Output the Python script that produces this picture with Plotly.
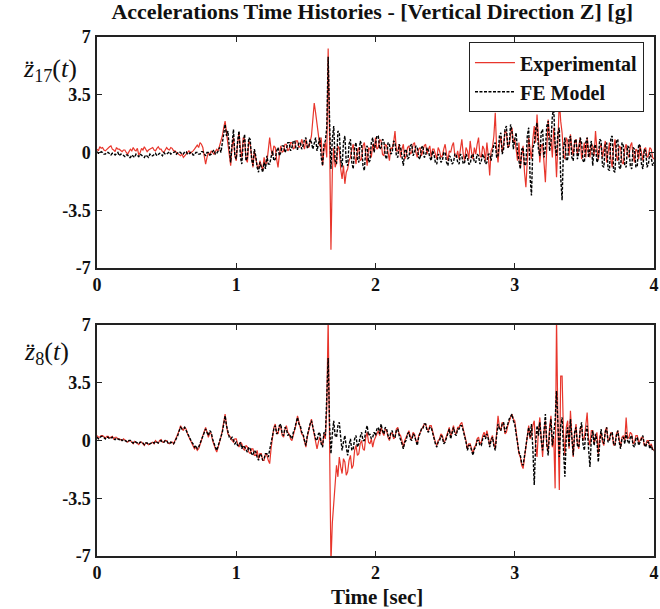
import numpy as np
import plotly.graph_objects as go
from plotly.subplots import make_subplots

# Sample times [sec], 0.01 s step over 4 s
time = np.round(np.arange(401) * 0.01, 2)

# Node 17, vertical acceleration [g]
z17_experimental = [
    0.2, 0.1, 0.35, 0.25, 0.3, 0.15, 0.1, 0.2, 0.25, 0.35, 0.4, 0.2, 0.15, 0.05, 0.3, 0.2, 0.2, 0.1, 0.05, 0.15,
    0.15, 0.0, -0.1, 0.05, 0.2, 0.1, 0.3, 0.15, 0.1, 0.25, -0.15, 0.0, 0.25, 0.15, 0.35, 0.2, 0.05, 0.15, 0.2, 0.3,
    0.3, 0.15, 0.1, 0.25, 0.35, 0.2, 0.2, 0.05, 0.0, 0.15, 0.3, 0.2, 0.15, 0.3, 0.25, 0.1, 0.1, 0.0, -0.05, -0.15,
    -0.2, -0.1, -0.3, -0.2, -0.1, 0.0, 0.1, -0.05, 0.0, 0.1, 0.2, 0.35, 0.45, 0.3, 0.6, 0.5, 0.3, -0.2, -0.7, -0.3,
    0.0, -0.15, 0.1, 0.0, -0.1, 0.05, 0.2, 0.1, 0.4, 0.7, 1.0, 1.5, 1.9, 1.2, 0.6, -0.2, -0.8, 0.4, 0.9, -0.2,
    -0.5, 0.6, 1.2, 0.2, -0.3, 0.9, 0.8, -0.4, -0.6, 0.7, 0.5, -0.2, -0.9, 0.1, -0.4, -0.8, -1.0, -0.5, -0.8, -1.1,
    -0.3, -0.7, -0.6, 0.1, 0.9, 0.2, -0.2, 0.4, 0.3, -0.4, -0.9, -0.1, 0.4, 0.0, 0.1, 0.5, 0.5, 0.1, 0.2, 0.6,
    0.6, 0.2, 0.3, 0.7, 0.7, 0.3, 0.4, 0.8, 0.5, 0.2, 0.8, 0.4, 0.3, 0.6, 1.0, 2.0, 3.0, 2.4, 1.8, 0.9,
    0.4, 0.9, -0.8, 0.2, 0.6, -0.3, 6.3, 1.0, -5.9, -1.2, 0.3, -0.9, -0.6, 0.4, 0.2, -1.0, -1.6, -0.8, -1.9, -1.2,
    -1.0, -0.5, -0.3, 0.2, 0.5, -0.2, -0.7, 0.1, 0.3, -0.5, -0.4, 0.4, 0.6, -0.1, -0.8, 0.3, 0.2, -0.3, 0.5, 0.1,
    0.9, 0.2, 0.3, 0.8, 0.7, -0.1, -0.2, 0.5, 0.4, 0.0, -0.5, 0.3, 0.2, 0.6, 1.3, 0.1, 0.1, 0.5, -0.3, 0.2,
    0.5, -0.4, -0.2, 0.3, 0.4, -0.1, 0.0, 0.5, 0.6, 0.0, -0.3, 0.2, 0.3, -0.2, 0.1, 0.4, 0.5, -0.1, 0.2, 0.4,
    -0.3, 0.2, 0.2, -0.2, -0.4, 0.3, 0.1, -0.3, -0.2, 0.2, 0.5, -0.1, -0.5, 0.1, 0.0, 0.4, 0.6, -0.2, -0.3, 0.1,
    -0.4, 0.2, 0.8, -0.1, -0.5, 0.3, 0.1, -0.4, 0.7, 0.0, -0.4, 0.3, -0.1, 0.5, 0.9, -0.2, -0.3, 0.4, 0.2, -0.5,
    0.6, -0.2, -1.4, 0.1, 0.3, 1.0, 2.4, 0.2, -0.6, 0.5, 1.0, 0.0, 0.5, 1.3, 1.2, 0.3, 0.4, 1.1, 1.5, 0.6,
    0.8, 0.2, -0.5, 0.6, -0.9, -0.2, 0.4, -1.2, -2.1, -0.5, 0.9, 0.2, -0.4, 0.8, 1.6, 0.6, 2.3, 0.9, -0.6, 0.4,
    0.5, -0.6, -1.8, 0.3, 2.0, 0.9, 0.8, -0.3, 1.5, 0.4, -1.5, 0.6, 3.2, 1.9, 1.2, -0.2, -0.4, 0.9, 0.7, -0.2,
    1.1, 0.3, -0.2, 0.6, 0.8, -0.1, 0.3, 0.9, -0.4, 0.2, 0.6, -0.3, 0.9, 0.1, -0.3, 0.5, 0.4, -0.2, 1.3, 0.2,
    -0.4, 0.3, 0.5, -0.3, 0.2, 0.7, -0.6, 0.1, 0.6, -0.4, -0.9, 0.3, 0.8, -0.2, -0.5, 0.4, 0.3, -0.6, -0.7, 0.2,
    0.5, -0.1, -0.3, 0.4, 0.6, -0.2, -0.6, 0.2, 0.1, -0.4, 0.4, 0.0, -0.5, 0.2, 0.3, -0.3, -0.2, 0.3, 0.2, -0.3,
    -0.4,
]
z17_fe_model = [
    0.05, -0.05, -0.05, 0.05, 0.0, -0.1, -0.1, 0.0, 0.0, -0.1, -0.15, -0.05, -0.05, -0.15, -0.1, 0.0, -0.2, -0.1, -0.1, -0.2,
    -0.25, -0.15, -0.15, -0.3, -0.3, -0.15, -0.2, -0.3, -0.1, -0.2, -0.25, -0.1, -0.15, -0.25, -0.3, -0.15, -0.2, -0.3, -0.1, -0.2,
    -0.2, -0.1, -0.05, -0.2, -0.15, -0.05, -0.1, -0.2, 0.0, -0.1, -0.1, 0.0, 0.05, -0.1, -0.05, 0.05, 0.05, -0.1, -0.05, 0.05,
    0.0, -0.1, -0.1, 0.05, 0.05, -0.1, -0.1, 0.0, 0.0, -0.15, -0.15, 0.0, 0.0, -0.1, -0.1, 0.05, 0.05, -0.1, -0.2, 0.0,
    0.0, -0.15, -0.1, 0.05, 0.15, -0.1, -0.05, 0.1, 0.3, 0.0, 0.6, 1.0, 1.7, 1.0, 1.3, 0.3, -0.6, 0.5, 1.4, -0.2,
    -0.4, 0.7, 1.3, -0.3, -0.7, 0.6, 1.1, -0.5, -0.3, 0.9, 0.8, -0.4, -0.8, 0.2, -0.2, -0.9, -1.2, -0.6, -0.9, -1.2,
    -0.6, -1.0, -0.2, -0.7, -0.7, -0.2, 0.1, -0.5, -0.4, 0.1, 0.3, -0.2, 0.0, 0.4, 0.4, 0.0, 0.2, 0.6, 0.6, 0.1,
    0.3, 0.7, 0.7, 0.2, 0.2, 0.6, 0.6, 0.2, 0.4, 0.8, 0.9, 0.3, 0.3, 0.8, 0.6, 0.2, 0.5, 0.9, 0.1, 0.6,
    0.9, -0.3, -0.8, 0.5, 0.7, 1.5, 5.8, 2.0, -1.0, 0.8, 1.6, -0.5, -0.7, 1.3, 1.2, -0.4, -0.9, 0.6, 1.0, -0.6,
    -0.8, 0.5, 0.8, -0.6, -1.0, 0.3, 0.6, -0.4, -0.6, 0.7, 0.5, -0.8, -1.1, 0.2, 0.4, -0.6, -0.5, 0.6, 0.9, 0.0,
    0.5, 1.0, 1.0, 0.2, 0.3, 0.8, 0.7, -0.2, -0.4, 0.6, 0.5, -0.1, 0.0, 0.7, 0.6, -0.2, -0.3, 0.5, 0.3, -0.4,
    -0.8, 0.1, 0.2, -0.4, -0.3, 0.4, 0.5, -0.2, 0.0, 0.4, 0.3, -0.3, -0.4, 0.3, 0.4, -0.3, -0.2, 0.3, 0.1, -0.3,
    -0.5, 0.1, -0.1, -0.6, -0.7, -0.1, -0.2, -0.6, -0.5, 0.0, 0.0, -0.6, -0.8, -0.2, -0.3, -0.7, -0.6, -0.1, -0.1, -0.6,
    -0.7, -0.1, -0.2, -0.7, -0.6, -0.1, -0.3, -0.7, -0.7, -0.2, -0.1, -0.6, -0.6, -0.1, -0.2, -0.7, -0.5, -0.1, -0.3, -0.7,
    -0.6, -0.1, -0.1, -0.5, 0.0, 0.5, 0.6, -0.3, -0.2, 1.0, 1.2, -0.1, 0.2, 1.4, 1.6, 0.3, 0.4, 1.7, 1.3, 0.2,
    0.8, 1.2, 0.0, -0.6, -1.0, 0.2, 0.3, -0.8, -0.7, 1.0, 1.5, -1.5, -2.6, 0.3, 0.5, 1.4, 1.8, 0.2, -0.2, 1.2,
    1.4, -0.3, 0.2, 1.6, 1.9, 0.1, 0.6, 2.2, 2.7, 0.4, -0.2, 1.2, 1.5, -1.5, -2.9, 0.3, 0.9, -0.5, -0.4, 0.8,
    1.0, -0.3, -0.5, 0.7, 0.8, -0.4, 0.0, 0.9, 0.6, -0.5, -0.6, 0.6, 0.9, -0.3, 0.2, 0.7, -0.8, 0.3, 0.5, -0.6,
    -0.4, 0.8, 0.7, -0.8, -0.9, 0.5, 0.6, -1.0, -1.1, 0.9, 1.0, -1.1, -1.2, 0.7, 0.8, -0.9, -1.0, 0.6, 0.4, -0.8,
    -0.9, 0.4, 0.3, -0.8, -1.0, 0.3, 0.2, -0.9, -0.8, 0.5, 0.4, -0.7, -1.0, 0.2, 0.1, -0.9, -0.7, 0.0, -0.3, -0.8,
    -0.6,
]

# Node 8, vertical acceleration [g]
z8_experimental = [
    0.3, 0.2, 0.2, 0.3, 0.3, 0.2, 0.15, 0.25, 0.25, 0.15, 0.2, 0.25, 0.1, 0.2, 0.2, 0.1, 0.1, 0.05, 0.0, 0.1,
    0.05, -0.05, -0.1, 0.0, 0.0, -0.1, -0.2, -0.05, -0.1, -0.2, -0.25, -0.1, -0.1, -0.2, -0.3, -0.15, -0.15, -0.25, -0.2, -0.1,
    -0.1, -0.2, 0.0, -0.1, -0.15, 0.0, 0.05, -0.1, -0.1, 0.0, 0.0, -0.15, -0.2, -0.1, -0.1, -0.2, 0.0, 0.1, 0.3, 0.6,
    0.9, 0.7, 0.6, 0.8, 0.7, 0.4, 0.2, 0.0, -0.2, -0.3, -0.5, -0.4, -0.6, -0.5, -0.3, 0.0, 0.3, 0.6, 0.8, 0.5,
    0.2, 0.5, 0.4, 0.0, -0.3, -0.5, -0.7, -0.4, -0.2, 0.2, 0.6, 1.1, 1.6, 0.9, 0.4, 0.3, 0.2, 0.0, -0.1, 0.1,
    0.1, -0.2, -0.4, -0.1, -0.2, -0.5, -0.6, -0.3, -0.4, -0.7, -0.8, -0.5, -0.5, -0.9, -0.9, -0.6, -1.1, -0.8, -0.8, -1.2,
    -1.2, -0.8, -0.9, -1.2, -1.4, -0.5, 0.3, 0.8, 1.0, 0.5, 0.4, 0.9, 0.8, 0.3, 0.2, 0.7, 0.9, 0.5, 0.4, 0.1,
    0.0, 0.3, 0.6, 1.0, 1.5, 1.1, 0.8, 0.4, 0.3, -0.1, -0.4, 0.2, 0.6, 1.0, 1.3, 0.8, 0.4, 0.0, -0.5, -0.1,
    0.2, -0.1, -0.3, 0.4, 0.1, 2.0, 7.4, 0.0, -7.4, -5.0, -3.8, -2.5, -1.5, -2.2, -1.0, -1.6, -2.0, -1.1, -1.3, -2.1,
    -1.9, -1.2, -0.9, -1.7, -1.5, -0.6, -0.3, -0.9, -0.8, -0.2, 0.0, -0.5, -0.6, 0.2, 0.5, -0.1, -0.2, 0.1, -0.4, 0.0,
    0.2, 0.5, 0.6, 0.3, 0.8, 0.5, 0.3, 0.7, 0.6, 0.2, 0.0, 0.4, 0.5, 0.1, 0.2, 0.7, 0.8, 0.4, 0.3, 0.0,
    -0.4, 0.0, 0.2, 0.5, 0.6, 0.2, 0.1, 0.5, 0.4, 0.0, -0.2, 0.3, 0.5, 0.7, 0.8, 1.0, 1.0, 0.7, 0.6, 0.9,
    0.9, 0.5, 0.2, -0.1, -0.3, 0.0, 0.1, 0.4, 0.3, -0.1, 0.0, 0.3, 0.5, 0.8, 0.2, 0.6, 0.9, 0.5, 0.4, 0.8,
    0.8, 1.0, 1.1, 0.7, 0.4, 0.0, -0.5, -0.2, -0.2, -0.6, -0.8, -0.4, -0.3, 0.1, 0.2, -0.2, -0.1, 0.3, 0.5, 0.2,
    0.6, 0.2, -0.3, 0.1, 0.3, -0.2, -0.5, 0.5, 1.5, 0.8, 0.6, 1.1, 1.0, 0.4, 0.5, 0.9, 1.2, 1.4, 1.6, 1.3,
    1.2, 0.5, -0.4, -0.8, -1.0, -1.5, -1.7, -1.0, -0.5, 0.4, 0.9, 0.1, 0.3, 0.9, 1.2, -0.3, -1.0, 0.6, 1.4, 0.2,
    -1.0, 0.5, 1.2, -0.3, -0.6, 0.8, 1.5, -0.4, 0.2, -2.9, 7.4, 1.0, -3.0, 3.9, 3.9, 0.4, -0.9, 0.8, 1.2, -0.5,
    1.8, 0.3, -1.0, 0.4, 1.0, -0.2, -0.5, 0.7, 0.9, 0.0, 0.2, 0.9, 1.7, 0.1, -0.3, 0.6, 0.6, -0.2, 0.2, 0.5,
    -0.8, 0.2, 0.5, -0.1, -0.3, 0.6, 0.8, 0.0, 0.1, 0.5, 0.4, -0.3, -0.2, 0.4, 0.6, 0.0, -0.4, 0.2, 0.3, 0.0,
    1.4, 0.1, 0.2, 0.5, 0.4, -0.2, -0.1, 0.3, 0.3, -0.1, 0.0, 0.2, 0.2, -0.3, -0.3, 0.0, 0.0, -0.4, -0.2, -0.5,
    -0.6,
]
z8_fe_model = [
    0.2, 0.1, 0.15, 0.25, 0.25, 0.15, 0.1, 0.2, 0.2, 0.1, 0.15, 0.2, 0.1, 0.05, 0.15, 0.1, 0.05, 0.1, 0.0, 0.05,
    0.0, -0.05, -0.1, 0.0, 0.0, -0.1, -0.15, -0.05, -0.1, -0.2, -0.2, -0.1, -0.1, -0.15, -0.25, -0.15, -0.15, -0.25, -0.2, -0.1,
    -0.1, -0.15, -0.05, -0.1, -0.15, -0.05, 0.0, -0.1, -0.1, 0.0, 0.0, -0.15, -0.2, -0.1, -0.15, -0.2, -0.05, 0.1, 0.3, 0.6,
    0.8, 0.7, 0.7, 0.8, 0.6, 0.5, 0.3, 0.1, -0.1, -0.2, -0.4, -0.3, -0.5, -0.4, -0.2, 0.0, 0.3, 0.5, 0.7, 0.5,
    0.3, 0.6, 0.5, 0.1, -0.2, -0.4, -0.6, -0.3, -0.1, 0.2, 0.5, 1.0, 1.5, 0.9, 0.5, 0.2, 0.1, 0.2, 0.0, -0.2,
    -0.1, -0.3, -0.3, -0.1, -0.5, -0.3, -0.4, -0.6, -0.7, -0.4, -0.5, -0.8, -0.9, -0.6, -0.7, -1.0, -1.2, -0.8, -0.9, -1.2,
    -1.1, -0.8, -0.8, -1.0, -0.6, -0.2, 0.4, 0.7, 0.9, 0.4, 0.5, 0.9, 1.0, 0.4, 0.3, 0.8, 0.7, 0.3, 0.4, 0.2,
    0.1, 0.5, 0.7, 1.1, 1.4, 1.0, 0.9, 0.5, 0.4, 0.0, -0.3, 0.3, 0.7, 1.0, 1.2, 0.8, 0.5, 0.1, 0.0, 0.4,
    0.5, -0.2, -0.4, 0.5, 0.3, 2.5, 5.0, 1.0, -0.8, 0.4, 1.2, 0.3, 0.2, 0.9, 1.1, 0.2, -0.6, -0.1, 0.3, -0.4,
    -0.9, -0.3, 0.1, -0.6, -0.5, 0.1, 0.3, -0.4, -0.2, 0.2, 0.5, 0.0, 0.0, 0.6, 0.9, 0.3, 0.4, 0.1, 0.2, 0.5,
    0.3, 0.7, 0.8, 0.4, 1.0, 0.6, 0.4, 0.8, 0.7, 0.3, 0.1, 0.5, 0.6, 0.2, 0.2, 0.6, 0.7, 0.3, 0.1, -0.2,
    -0.5, -0.1, 0.0, 0.4, 0.5, 0.1, 0.0, 0.4, 0.3, -0.1, -0.3, 0.2, 0.4, 0.7, 0.7, 1.0, 1.0, 0.6, 0.5, 0.8,
    0.8, 0.4, 0.1, -0.2, -0.4, -0.1, 0.0, 0.3, 0.2, -0.2, -0.1, 0.2, 0.4, 0.7, 0.1, 0.5, 0.8, 0.4, 0.3, 0.7,
    0.7, 0.9, 0.9, 0.6, 0.3, -0.1, -0.6, -0.3, -0.3, -0.7, -0.9, -0.5, -0.4, 0.0, 0.0, -0.3, -0.3, 0.1, 0.3, 0.1,
    0.4, 0.1, -0.4, 0.0, 0.2, -0.3, -0.6, 0.3, 1.0, 0.7, 0.6, 1.0, 1.1, 0.5, 0.7, 1.0, 1.3, 1.5, 1.6, 1.2,
    1.0, 0.4, -0.2, -0.7, -0.9, -1.4, -1.5, -0.9, -0.6, 0.3, 0.8, 0.2, 1.0, -0.5, -2.7, -0.2, 0.9, 0.3, 1.1, 0.0,
    -0.6, 0.6, 1.6, -0.2, -0.9, 0.5, 1.3, -0.3, 0.3, 1.2, 3.0, 0.6, -1.0, 0.9, 1.4, -0.6, -2.2, 0.2, 0.8, -0.4,
    1.3, 0.2, -0.9, 0.5, 0.8, -0.3, -0.4, 0.7, 1.1, -0.2, -0.6, 0.5, 0.9, -0.5, -1.6, 0.1, 0.6, -0.3, 0.4, 0.0,
    -1.3, -0.2, 0.7, 0.1, -0.2, 0.5, 0.8, -0.1, 0.0, 0.4, 0.5, -0.2, -0.3, 0.3, 0.6, -0.1, -0.5, 0.1, 0.2, -0.2,
    0.5, 0.0, -0.2, 0.2, 0.3, -0.3, -0.4, 0.1, 0.2, -0.3, -0.1, 0.2, 0.3, -0.2, -0.4, -0.1, -0.1, -0.5, -0.3, -0.6,
    -0.6,
]

for series in (z17_experimental, z17_fe_model, z8_experimental, z8_fe_model):
    assert len(series) == len(time)

x_ticks = [0, 1, 2, 3, 4]
y_ticks = [-7, -3.5, 0, 3.5, 7]
y_tick_text = ["-7", "-3.5", "0", "3.5", "7"]

RED = "#e8362c"
SERIF = "Liberation Serif"
INK = "#111"

fig = make_subplots(rows=2, cols=1)

panels = [(z17_experimental, z17_fe_model, 1), (z8_experimental, z8_fe_model, 2)]
for exp_vals, fe_vals, row in panels:
    fig.add_trace(go.Scatter(
        x=time, y=exp_vals, mode="lines", name="Experimental",
        line=dict(color=RED, width=1.2), showlegend=(row == 1),
    ), row=row, col=1)
    fig.add_trace(go.Scatter(
        x=time, y=fe_vals, mode="lines", name="FE Model",
        line=dict(color="black", width=1.4, dash="3px,1.5px"), showlegend=(row == 1),
    ), row=row, col=1)

tick_font = dict(family=SERIF, size=18, color=INK, weight="bold")
frame = dict(
    ticks="inside", ticklen=5, tickwidth=1.2, tickcolor="#222",
    showline=True, linecolor="#222", linewidth=1.5, mirror="ticks",
    showgrid=False, zeroline=False, automargin=False, tickfont=tick_font,
)
fig.update_xaxes(range=[0, 4], tickvals=x_ticks, **frame)
fig.update_yaxes(range=[-7, 7], tickvals=y_ticks, ticktext=y_tick_text,
                 ticklabelstandoff=1, **frame)
fig.update_layout(
    xaxis=dict(domain=[0, 1], anchor="y"),
    xaxis2=dict(domain=[0, 1], anchor="y2"),
    yaxis=dict(domain=[0.555, 1.0]),
    yaxis2=dict(domain=[0.0, 0.445]),
)

fig.update_layout(
    width=660, height=609,
    margin=dict(l=97, r=6, t=37, b=53),
    paper_bgcolor="white", plot_bgcolor="white",
    title=dict(
        text="Accelerations Time Histories - [Vertical Direction Z] [g]",
        x=0.564, xanchor="center", y=0.981, yanchor="middle",
        font=dict(family=SERIF, size=22, color=INK, weight="bold"),
    ),
    legend=dict(
        x=0.982, xanchor="right", y=0.99, yanchor="top",
        bgcolor="white", bordercolor="#222", borderwidth=1,
        font=dict(family=SERIF, size=20, color=INK, weight="bold"),
        tracegroupgap=0, itemwidth=40,
    ),
    showlegend=True,
)

# x-axis title under the lower panel
fig.add_annotation(
    text="Time [sec]", xref="paper", yref="paper", x=0.502, y=-0.079,
    xanchor="center", yanchor="middle", showarrow=False,
    font=dict(family=SERIF, size=21, color=INK, weight="bold"),
)

# y-axis labels (acceleration of nodes 17 and 8)
ylabel_font = dict(family=SERIF, size=26, color=INK)
fig.add_annotation(
    text="<i>z\u0308</i><sub>17</sub>(<i>t</i>)", xref="paper", yref="paper",
    x=-0.032, xanchor="right", y=0.936, yanchor="middle", showarrow=False, font=ylabel_font,
)
fig.add_annotation(
    text="<i>z\u0308</i><sub>8</sub>(<i>t</i>)", xref="paper", yref="paper",
    x=-0.046, xanchor="right", y=0.391, yanchor="middle", showarrow=False, font=ylabel_font,
)

fig.write_html("out.html")
